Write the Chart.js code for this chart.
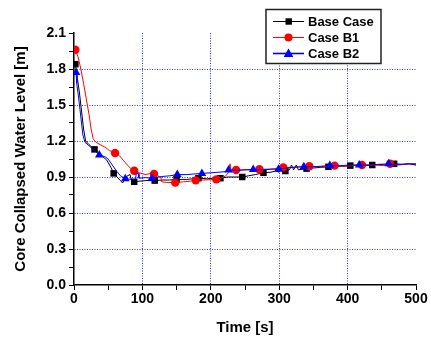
<!DOCTYPE html>
<html>
<head>
<meta charset="utf-8">
<script src="https://cdn.jsdelivr.net/npm/chart.js@4.4.1/dist/chart.umd.min.js"></script>
<style>
html,body{margin:0;padding:0;background:#fff;}
#wrap{width:431px;height:338px;position:relative;}
</style>
</head>
<body>
<div id="wrap"><canvas id="c" width="431" height="338"></canvas></div>
<script>
// ---- data ----
const seriesNames = ["Base Case", "Case B1", "Case B2"];
const xTickLabels = [0, 100, 200, 300, 400, 500];
const yTickLabels = ["0.0","0.3","0.6","0.9","1.2","1.5","1.8","2.1"];

const baseTime  = [0,2,5,8,11,14,17,22,30,36,42,48,54,58,63,68,71,74,78,82,84,88,95,105,118,130,140,150,165,182,195,205,214,225,235,246,255,265,277,288,295,300,304,306,309,315,318,321,325,328,340,350,360,372,385,395,404,418,428,436,445,455,468,480,490,500];
const baseLevel = [1.84,1.84,1.72,1.60,1.45,1.30,1.20,1.17,1.13,1.10,1.07,1.04,0.98,0.93,0.90,0.87,0.85,0.88,0.91,0.92,0.87,0.86,0.865,0.87,0.87,0.875,0.875,0.88,0.88,0.89,0.885,0.89,0.89,0.90,0.90,0.90,0.91,0.92,0.935,0.94,0.95,0.94,0.99,0.95,0.95,0.96,1.00,0.96,1.00,0.96,0.97,0.975,0.98,0.985,0.99,0.99,0.995,1.00,0.995,1.00,1.005,1.00,1.01,1.005,1.01,1.01];
const baseMarkerTime = [2,30,58,88,118,150,182,214,246,277,309,340,372,404,436,468];

const b1Time  = [0,2,6,10,14,18,22,25,28,32,38,45,52,60,66,72,78,83,88,95,105,112,117,122,127,128,135,148,160,170,178,190,200,208,215,222,226,228,230,237,250,262,271,285,296,306,318,330,344,358,370,381,395,410,421,432,440,451,462,475,490,500];
const b1Level = [1.97,1.96,1.90,1.80,1.68,1.55,1.42,1.30,1.22,1.19,1.17,1.15,1.12,1.10,1.08,1.04,1.00,0.97,0.952,0.935,0.92,0.93,0.925,0.91,0.90,0.86,0.855,0.853,0.86,0.865,0.872,0.875,0.878,0.88,0.89,0.91,0.94,1.01,0.95,0.958,0.96,0.96,0.965,0.965,0.97,0.98,0.98,0.985,0.99,0.985,0.99,0.995,0.99,0.995,1.00,1.00,1.00,0.995,1.01,1.00,1.01,1.00];
const b1MarkerTime = [2,30,60,88,117,148,178,208,237,271,306,344,381,421,462];

const b2Time  = [0,3,4,7,10,13,16,22,30,37,45,50,56,62,68,75,85,90,91,94,95,105,114,125,130,140,151,165,175,187,200,212,222,226,240,250,262,275,288,299,310,320,336,350,362,374,390,405,417,430,445,460,475,490,500];
const b2Level = [1.78,1.77,1.68,1.55,1.40,1.25,1.19,1.16,1.12,1.083,1.07,1.05,1.00,0.95,0.91,0.885,0.88,0.88,0.93,0.93,0.89,0.895,0.89,0.90,0.905,0.91,0.92,0.92,0.925,0.93,0.935,0.94,0.945,0.958,0.955,0.96,0.963,0.96,0.965,0.965,0.975,0.98,0.986,0.985,0.99,0.995,0.995,1.00,1.00,1.00,1.005,1.01,1.005,1.01,1.00];
const b2MarkerTime = [3,37,75,114,151,187,226,262,299,336,374,417,460];

const colors = ["#000000", "#ff0000", "#0000ff"];
const pointStyles = ["rect", "circle", "triangle"];
const markerRadius = [4.6, 4.2, 5];

function toPoints(t, v){ return t.map((x,i)=>({x:x, y:v[i]})); }
function makeDataset(i, t, v, marks, order){
  const set = new Set(marks);
  return {
    label: seriesNames[i],
    data: toPoints(t, v),
    borderColor: colors[i],
    backgroundColor: colors[i],
    borderWidth: 1,
    pointStyle: pointStyles[i],
    pointRadius: ctx => (ctx.raw && set.has(ctx.raw.x)) ? markerRadius[i] : 0,
    pointHoverRadius: 0,
    pointBorderWidth: 0,
    tension: 0,
    order: order
  };
}

const legendPlugin = {
  id: 'boxLegend',
  afterDraw(chart){
    const ctx = chart.ctx;
    ctx.save();
    ctx.fillStyle = '#fff';
    ctx.fillRect(266, 9.5, 115, 54);
    ctx.strokeStyle = '#222';
    ctx.lineWidth = 1.5;
    ctx.strokeRect(266, 9.5, 115, 54);
    const rows = [21.5, 37.5, 53.5];
    ctx.font = 'bold 13px "Liberation Sans", Arial, sans-serif';
    ctx.textBaseline = 'middle';
    ctx.textAlign = 'left';
    for (let i = 0; i < 3; i++){
      const y = rows[i];
      ctx.strokeStyle = colors[i];
      ctx.lineWidth = i === 2 ? 1.6 : 1;
      ctx.beginPath(); ctx.moveTo(273, y); ctx.lineTo(304, y); ctx.stroke();
      ctx.fillStyle = colors[i];
      ctx.beginPath();
      if (i === 0){ ctx.rect(285.5, y-3.2, 6.4, 6.4); }
      else if (i === 1){ ctx.arc(288.5, y, 4, 0, Math.PI*2); }
      else { ctx.moveTo(288.5, y-5); ctx.lineTo(293.3, y+3.5); ctx.lineTo(283.7, y+3.5); ctx.closePath(); }
      ctx.fill();
      ctx.fillStyle = '#000';
      ctx.fillText(seriesNames[i], 308, y + 0.5);
    }
    ctx.restore();
  }
};

const gridBlue = 'rgba(30,30,255,0.9)';
const tickFont = {family: '"Liberation Sans", Arial, sans-serif', size: 14, weight: 'bold'};

new Chart(document.getElementById('c'), {
  type: 'line',
  data: {
    datasets: [
      makeDataset(0, baseTime, baseLevel, baseMarkerTime, 3),
      makeDataset(1, b1Time, b1Level, b1MarkerTime, 2),
      makeDataset(2, b2Time, b2Level, b2MarkerTime, 1)
    ]
  },
  options: {
    responsive: false,
    animation: false,
    events: [],
    layout: {padding: {top: 33, right: 15, left: 0, bottom: 0}},
    plugins: {legend: {display: false}, tooltip: {enabled: false}},
    scales: {
      x: {
        type: 'linear', min: 0, max: 500,
        afterFit: s => { s.height = 53; },
        ticks: {
          stepSize: 50, autoSkip: false, maxRotation: 0, padding: 1,
          color: '#000', font: tickFont,
          callback: v => (xTickLabels.includes(v) ? String(v) : '')
        },
        grid: {
          drawTicks: true, tickLength: 5, tickColor: '#000', tickWidth: 1, tickBorderDash: [],
          lineWidth: 1,
          color: c => { const v = c.tick ? c.tick.value : 0; return (v % 100 === 0 && v > 0 && v < 500) ? gridBlue : 'rgba(0,0,0,0)'; }
        },
        border: {display: true, color: '#000', width: 1.5, dash: [1, 1.5]},
        title: {display: true, text: 'Time [s]', color: '#000', padding: {top: 0, bottom: 1},
          font: {family: '"Liberation Sans", Arial, sans-serif', size: 15, weight: 'bold'}}
      },
      y: {
        type: 'linear', min: 0, max: 2.1,
        afterFit: s => { s.width = 74; },
        ticks: {
          stepSize: 0.15, autoSkip: false, padding: 3,
          color: '#000', font: tickFont,
          callback: v => { const k = Math.round(v / 0.15); return k % 2 === 0 ? yTickLabels[k/2] : ''; }
        },
        grid: {
          drawTicks: true, tickLength: 5, tickColor: '#000', tickWidth: 1, tickBorderDash: [],
          lineWidth: 1,
          color: c => { const v = c.tick ? c.tick.value : 0; const k = Math.round(v / 0.15); return (k % 2 === 0 && k > 0 && k < 14) ? gridBlue : 'rgba(0,0,0,0)'; }
        },
        border: {display: true, color: '#000', width: 1.5, dash: [1, 1.5]},
        title: {display: true, text: 'Core Collapsed Water Level [m]', color: '#000', padding: {top: 12, bottom: 0},
          font: {family: '"Liberation Sans", Arial, sans-serif', size: 15, weight: 'bold'}}
      }
    }
  },
  plugins: [legendPlugin]
});
</script>
</body>
</html>
